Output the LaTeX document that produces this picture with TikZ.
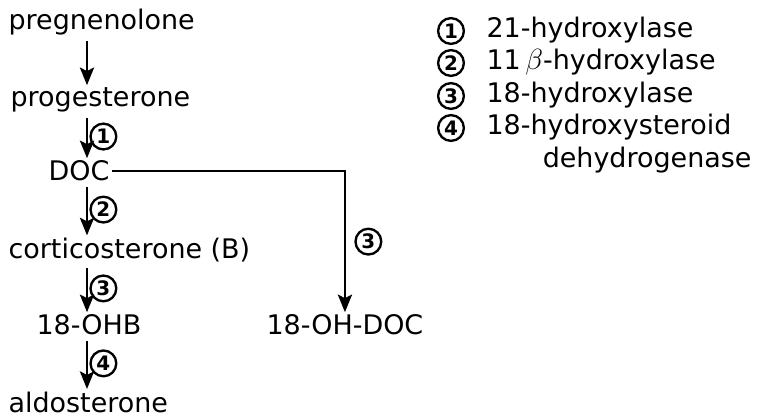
\documentclass[tikz,border=0pt]{standalone}
\usepackage{amsmath}
\usepackage{fontspec}
\setmainfont{DejaVu Sans}
\usetikzlibrary{arrows.meta}

\begin{document}
\begin{tikzpicture}[x=0.03cm, y=-0.03cm,
    every node/.style={font=\fontsize{23}{27}\selectfont, inner sep=2pt},
    compound/.style={anchor=west},
    steparrow/.style={-{Stealth[length=15pt, width=12pt, inset=3pt]}, line width=2.4pt},
    enzyme/.style={circle, draw, line width=2pt, inner sep=0pt,
      minimum size=22pt, font=\fontsize{17}{17}\selectfont\bfseries}]
        \useasboundingbox (0, 0) rectangle (762, 418);
        \coordinate (axis) at (87, 0);
        \node[compound] (preg) at (6, 22) {pregnenolone};
        \node[compound] (prog) at (8, 100) {progesterone};
        \node[compound] (doc) at (46, 171) {DOC};
        \node[compound] (cort) at (6, 250) {corticosterone (B)};
        \node[compound] (ohb) at (34, 325) {18-OHB};
        \node[compound] (ohdoc) at (264, 325) {18-OH-DOC};
        \node[compound] (aldo) at (6, 402) {aldosterone};
        \draw[steparrow, shorten <=3pt] (preg.south -| axis) -- (prog.north -| axis);
        \draw[steparrow, shorten <=3pt] (prog.south -| axis) -- (doc.north -| axis)
        node[midway, right, xshift=2pt, enzyme] {1};
        \draw[steparrow, shorten <=3pt] (doc.south -| axis) -- (cort.north -| axis)
        node[midway, right, xshift=2pt, enzyme] {2};
        \draw[steparrow, shorten <=3pt] (cort.south -| axis) -- (ohb.north -| axis)
        node[midway, right, xshift=2pt, enzyme] {3};
        \draw[steparrow, shorten <=3pt] (ohb.south -| axis) -- (aldo.north -| axis)
        node[midway, right, xshift=2pt, enzyme] {4};
        \draw[steparrow] (doc.east) -| (ohdoc.north)
        node[pos=0.75, right, xshift=8pt, enzyme] {3};
        % enzyme legend
        \node[enzyme] (n1) at (451, 31) {1};
        \node[enzyme] (n2) at (451, 63) {2};
        \node[enzyme] (n3) at (451, 96) {3};
        \node[enzyme] (n4) at (451, 128) {4};
        \node[compound] (e1) at (484, 30) {21-hydroxylase};
        \node[compound] (e2) at (484, 62) {11\,$\beta$-hydroxylase};
        \node[compound] (e3) at (484, 95) {18-hydroxylase};
        \node[compound] (e4) at (484, 127) {18-hydroxysteroid};
        \node[anchor=east] (e5) at (754, 160) {dehydrogenase};
      \end{tikzpicture}
\end{document}
